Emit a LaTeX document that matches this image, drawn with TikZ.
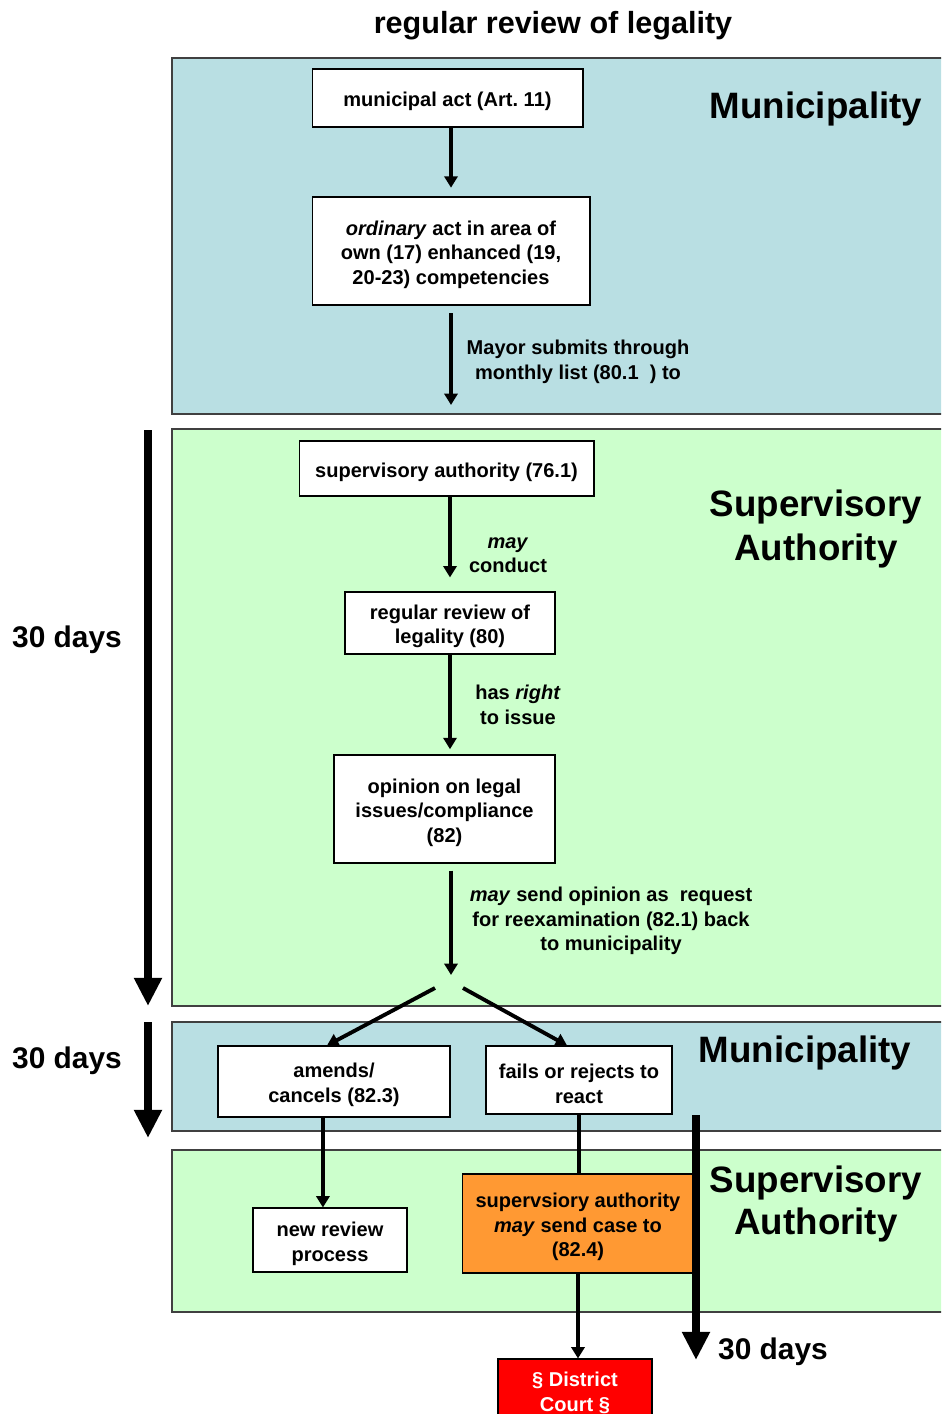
\documentclass[tikz,border=0pt]{standalone}
\usepackage{fontspec}
\setmainfont{Liberation Sans}
\usepackage{tikz}
\usetikzlibrary{arrows.meta}

\definecolor{muniblue}{HTML}{B9DFE3}
\definecolor{supgreen}{HTML}{CCFFCC}
\definecolor{caseorange}{HTML}{FF9933}
\definecolor{courtred}{HTML}{FF0000}
\definecolor{panelgray}{HTML}{404040}

\newcommand{\topline}{\rule{0pt}{12.3pt}}

\tikzset{
  txt/.style={font=\bfseries\fontsize{11.4}{14}\selectfont, align=center},
  actbox/.style={txt, draw=black, fill=white, line width=0.6pt, inner sep=0pt,
    execute at begin node={\topline}},
  panel/.style={draw=panelgray, line width=0.9pt},
  bigtxt/.style={font=\bfseries\fontsize{20.9}{25.5}\selectfont, align=center},
  daystxt/.style={font=\bfseries\fontsize{17}{20}\selectfont},
  flow/.style={line width=2.2pt, -{Triangle[length=6.5pt,width=7.5pt]}},
  days/.style={line width=4.2pt, -{Triangle[length=16pt,width=15pt]}}
}

\begin{document}
\begin{tikzpicture}[x=0.02cm, y=-0.02cm]
  \useasboundingbox (0,0) rectangle (941,1414);
  \clip (0,0) rectangle (941,1414);
  \fill[white] (0,0) rectangle (941,1414);

  \draw[panel, fill=muniblue] (172,58) rectangle (960,414);
  \draw[panel, fill=supgreen] (172,429) rectangle (960,1006);
  \draw[panel, fill=muniblue] (172,1022) rectangle (960,1131);
  \draw[panel, fill=supgreen] (172,1150) rectangle (960,1312);

  \node[txt, font=\bfseries\fontsize{17.4}{20}\selectfont] (title) at (553,26) {regular review of legality};
  \node[bigtxt] (muni1) at (816,109) {Municipality};
  \node[bigtxt] (sup1) at (816,529) {Supervisory\\Authority};
  \node[bigtxt] (muni2) at (805,1053) {Municipality};
  \node[bigtxt, font=\bfseries\fontsize{20.9}{24}\selectfont] (sup2) at (816,1204) {Supervisory\\Authority};

  \node[actbox, minimum width=5.42cm, minimum height=1.16cm] (act) at (447.5,98) {municipal act (Art.~11)};
  \node[actbox, minimum width=5.56cm, minimum height=2.16cm] (ordinary) at (451,251) {\topline\textit{ordinary} act in area of\\own (17) enhanced (19,\\20-23) competencies};
  \node[actbox, minimum width=5.9cm, minimum height=1.1cm] (supauth) at (446.5,468.5) {supervisory authority (76.1)};
  \node[actbox, minimum width=4.2cm, minimum height=1.24cm] (review) at (450,623) {\topline regular review of\\legality (80)};
  \node[actbox, minimum width=4.42cm, minimum height=2.16cm] (opinion) at (444.5,809) {\topline opinion on legal\\issues/compliance\\(82)};
  \node[actbox, minimum width=4.64cm, minimum height=1.42cm] (amends) at (334,1081.5) {\topline amends/\\cancels (82.3)};
  \node[actbox, minimum width=3.72cm, minimum height=1.36cm] (fails) at (579,1080) {\topline fails or rejects to\\react};
  \node[actbox, minimum width=3.08cm, minimum height=1.28cm] (newrev) at (330,1240) {\topline new review\\process};
  \node[actbox, fill=caseorange, minimum width=4.64cm, minimum height=1.98cm] (case) at (578,1223.5) {\topline supervsiory authority\\\textit{may} send case to\\(82.4)};
  \node[actbox, fill=courtred, text=white, minimum width=3.08cm, minimum height=1.2cm] (court) at (575,1389) {\topline\S\ District\\Court \S};

  \node[txt] (mayor) at (578,362) {Mayor submits through\\monthly list (80.1\ \ ) to};
  \node[txt] (conduct) at (508,555) {\textit{may}\\conduct};
  \node[txt] (issue) at (518,705) {has \textit{right}\\to issue};
  \node[txt] (request) at (611,921) {\textit{may} send opinion as\ \ request\\for reexamination (82.1) back\\to municipality};

  \coordinate (submit) at (451,405);
  \coordinate (split) at (451,975);
  \coordinate (splitl) at (435,988);
  \coordinate (splitr) at (463,988);

  \draw[flow, shorten >=5pt] (act.south -| ordinary.north) -- (ordinary.north);
  \draw[flow, shorten <=4.5pt] (ordinary.south) -- (submit);
  \draw[flow, shorten >=8pt] (supauth.south -| review.north) -- (review.north);
  \draw[flow, shorten >=3pt] (review.south) -- (review.south |- opinion.north);
  \draw[flow, shorten <=4pt] (opinion.south -| split) -- (split);
  \draw[flow] (splitl) -- ([xshift=-4pt]amends.north);
  \draw[flow] (splitr) -- ([xshift=-6.8pt]fails.north);
  \draw[flow] ([xshift=-6.3pt]amends.south) -- ([xshift=-6.3pt]amends.south |- newrev.north);
  \draw[line width=2.2pt] (fails.south) -- (fails.south |- case.north);
  \draw[flow] (case.south) -- (case.south |- court.north);

  \foreach \i/\x/\ya/\yb/\lx/\ly in {1/148/430/1006/67/640, 2/148/1022/1138/67/1061, 3/696/1115/1360/773/1352} {
    \coordinate (from\i) at (\x,\ya);
    \coordinate (to\i) at (\x,\yb);
    \draw[days] (from\i) -- (to\i);
    \node[daystxt] (days\i) at (\lx,\ly) {30 days};
  }
\end{tikzpicture}
\end{document}
